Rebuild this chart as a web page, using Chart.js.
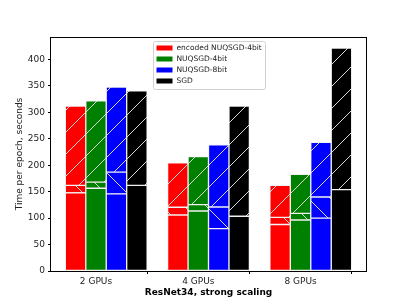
<!DOCTYPE html>
<html lang="en">
<head>
<meta charset="UTF-8">
<title>ResNet34, strong scaling</title>
<script src="https://cdn.jsdelivr.net/npm/chart.js"></script>
<style>
  html, body { margin: 0; padding: 0; background: #fff; }
  #wrap { width: 407px; height: 305px; }
</style>
</head>
<body>
<div id="wrap"><canvas id="chart" width="407" height="305"></canvas></div>
<script>
// data (seconds per epoch)
const categories = ['2 GPUs', '4 GPUs', '8 GPUs'];
const methods = ['encoded NUQSGD-4bit', 'NUQSGD-4bit', 'NUQSGD-8bit', 'SGD'];
// solid bottom part, "\" hatched middle part, "/" hatched top part
const encodedBase = [148, 106, 88];
const encodedMid = [14, 14.5, 13.5];
const encodedTop = [150, 84, 60.5];
const nuq4Base = [156.5, 113.5, 96.5];
const nuq4Mid = [11.5, 12, 12.5];
const nuq4Top = [154, 91, 74];
const nuq8Base = [146, 80, 100];
const nuq8Mid = [41, 41, 40];
const nuq8Top = [161, 117.5, 103.5];
const sgdBase = [162, 103.5, 154];
const sgdTop = [179, 208.5, 267.5];
const yTicks = [0, 50, 100, 150, 200, 250, 300, 350, 400];

const colors = ['#ff0000', '#008000', '#0000ff', '#000000'];
const barOffsets = [-0.2, 0, 0.2, 0.4];
const FONT = 'DejaVu Sans';

function hatch(color, dir) {
    const s = 22;
    const c = document.createElement('canvas');
    c.width = s; c.height = s;
    const g = c.getContext('2d');
    g.fillStyle = color;
    g.fillRect(0, 0, s, s);
    g.strokeStyle = 'rgba(215,215,215,1)';
    g.lineWidth = 1;
    g.beginPath();
    if (dir === '/') {
        g.moveTo(-2, s + 2); g.lineTo(s + 2, -2);
        g.moveTo(-2, 2); g.lineTo(2, -2);
        g.moveTo(s - 2, s + 2); g.lineTo(s + 2, s - 2);
    } else {
        g.moveTo(-2, -2); g.lineTo(s + 2, s + 2);
        g.moveTo(s - 2, -2); g.lineTo(s + 2, 2);
        g.moveTo(-2, s - 2); g.lineTo(2, s + 2);
    }
    g.stroke();
    return g.createPattern(c, 'repeat');
}

function seg(values, m, fill, label) {
    return {
        label: label,
        data: values.map((v, i) => ({ x: i + barOffsets[m], y: v })),
        backgroundColor: fill,
        borderColor: '#f2f2f2',
        borderWidth: 1,
        borderSkipped: false,
        stack: 's',
        barPercentage: 1,
        categoryPercentage: 1
    };
}

const parts = [
    [encodedBase, encodedMid, encodedTop],
    [nuq4Base, nuq4Mid, nuq4Top],
    [nuq8Base, nuq8Mid, nuq8Top],
    [sgdBase, null, sgdTop]
];
const datasets = [];
parts.forEach((p, m) => {
    datasets.push(seg(p[0], m, colors[m], methods[m]));
    if (p[1]) datasets.push(seg(p[1], m, hatch(colors[m], '\\'), ''));
    datasets.push(seg(p[2], m, hatch(colors[m], '/'), ''));
});

// frame + legend box inside the axes, like matplotlib
const framePlugin = {
    id: 'frame',
    afterDatasetsDraw(chart) {
        const { ctx, chartArea: a } = chart;
        ctx.save();
        ctx.strokeStyle = '#000';
        ctx.lineWidth = 1;
        ctx.strokeRect(Math.round(a.left) - 0.5, Math.round(a.top) + 0.5,
            Math.round(a.right - a.left) + 1, Math.round(a.bottom - a.top));

        const w = 112, h = 48;
        const lx = (a.left + a.right) / 2 - w / 2, ly = a.top + 4;
        ctx.fillStyle = 'rgba(255,255,255,0.85)';
        ctx.strokeStyle = '#d0d0d0';
        ctx.beginPath();
        ctx.roundRect(Math.round(lx) + 0.5, Math.round(ly) + 0.5, w, h, 2);
        ctx.fill();
        ctx.stroke();
        ctx.font = '7.5px "' + FONT + '"';
        ctx.textBaseline = 'middle';
        methods.forEach((name, i) => {
            const yy = ly + 7 + i * 11;
            ctx.fillStyle = colors[i];
            ctx.fillRect(lx + 4, yy - 2.5, 16, 5);
            ctx.fillStyle = '#222';
            ctx.fillText(name, lx + 24, yy);
        });
        ctx.restore();
    }
};

new Chart(document.getElementById('chart'), {
    type: 'bar',
    data: { datasets: datasets },
    plugins: [framePlugin],
    options: {
        responsive: false,
        animation: false,
        layout: { padding: { top: 37, right: 41, left: 0, bottom: 0 } },
        plugins: { legend: { display: false }, tooltip: { enabled: false } },
        scales: {
            x: {
                type: 'linear',
                min: -0.44,
                max: 2.64,
                offset: false,
                grid: { drawOnChartArea: false, tickLength: 3, tickColor: '#000' },
                border: { display: false },
                afterBuildTicks: s => { s.ticks = categories.map((c, i) => ({ value: i })); },
                afterFit: s => { s.height = 34; },
                ticks: {
                    callback: v => categories[v],
                    color: '#222',
                    padding: 2,
                    maxRotation: 0,
                    font: { family: FONT, size: 9 }
                },
                title: {
                    display: true,
                    text: 'ResNet34, strong scaling',
                    color: '#000',
                    padding: { top: 0, bottom: 6.5 },
                    font: { family: FONT, size: 9, weight: 'bold' }
                }
            },
            y: {
                stacked: true,
                min: 0,
                max: 442.6,
                grid: { drawOnChartArea: false, tickLength: 3, tickColor: '#000' },
                border: { display: false },
                afterBuildTicks: s => { s.ticks = yTicks.map(v => ({ value: v })); },
                afterFit: s => { s.width = 51; },
                ticks: {
                    color: '#222',
                    padding: 3,
                    font: { family: FONT, size: 9 }
                },
                title: {
                    display: true,
                    text: 'Time per epoch, seconds',
                    color: '#222',
                    padding: { top: 14.5, bottom: 0 },
                    font: { family: FONT, size: 9 }
                }
            }
        }
    }
});
</script>
</body>
</html>
